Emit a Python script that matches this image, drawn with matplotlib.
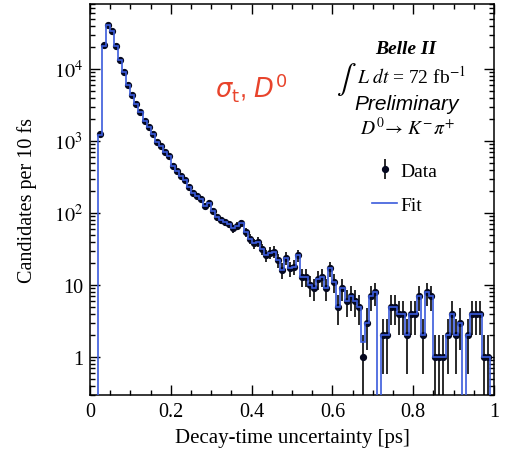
import numpy as np
import matplotlib
import matplotlib.pyplot as plt
from matplotlib.ticker import MultipleLocator, FixedLocator, FixedFormatter, LogLocator, FuncFormatter

plt.rcParams['font.family'] = ['Liberation Serif', 'DejaVu Serif']
plt.rcParams['mathtext.fontset'] = 'stix'

# 10 fs bins from 0 to 1 ps
edges = np.linspace(0.0, 1.0, 101)

# candidates per bin
data = [0, 0, 1250, 21500, 41000, 34000, 21000, 13300, 9100, 6000,
        4350, 3250, 2500, 1900, 1550, 1250, 980, 850, 710, 620,
        455, 385, 325, 290, 230, 190, 175, 157, 126, 138,
        107, 87, 79, 74, 70, 61, 66, 72, 54, 44,
        38, 40, 32, 26, 28, 29, 22, 16, 24, 17,
        18, 26, 13, 13, 10, 9, 12, 13, 9, 17,
        11, 5, 9, 6, 7, 6, 5, 1, 3, 7,
        8, 0, 2, 2, 5, 5, 4, 4, 2, 4,
        4, 7, 2, 8, 7, 1, 1, 1, 2, 4,
        2, 3, 0, 2, 4, 4, 4, 1, 1, 0]

# fit template per bin
fit = [0, 0, 1200, 21000, 40500, 34000, 21000, 13300, 9100, 6000,
       4350, 3250, 2500, 1900, 1550, 1250, 980, 850, 710, 620,
       455, 385, 325, 290, 230, 190, 175, 157, 126, 138,
       107, 87, 79, 74, 70, 61, 66, 72, 54, 44,
       38, 40, 32, 26, 28, 29, 22, 16, 24, 17,
       18, 26, 13, 13, 10, 9, 12, 13, 9, 17,
       11, 5, 9, 6, 7, 6, 5, 1.6, 3, 7,
       8, 0, 2, 2, 5, 5, 4, 4, 2, 4,
       4, 7, 2, 8, 7, 1, 1, 1, 2, 4,
       2, 3, 0, 2, 4, 4, 4, 1, 1, 0]

ytick_vals = [1, 10, 100, 1000, 10000]
ytick_labels = ['1', '10', '$10^{2}$', '$10^{3}$', '$10^{4}$']

data = np.array(data, dtype=float)
fit = np.array(fit, dtype=float)
centers = 0.5 * (edges[1:] + edges[:-1])

fig = plt.figure(figsize=(5.06, 4.60), dpi=100)
ax = fig.add_axes([90 / 506, 1 - 396 / 460, 404 / 506, 391 / 460])
ax.set_yscale('log')

blue = '#3b5bdb'
st = ax.stairs(np.where(fit > 0, fit, 1e-3), edges, color=blue, lw=1.2, zorder=3)

m = data > 0
err = np.sqrt(data[m])
lo = np.minimum(err, data[m] * 0.999)
eb = ax.errorbar(centers[m], data[m], yerr=[lo, err], fmt='o', color='#2a2a2a',
                 mfc='#05081f', mec='#05081f', ms=4.2, elinewidth=1.4, capsize=0, zorder=2)

ax.set_xlim(0, 1)
ax.set_ylim(0.297, 80000)

ax.xaxis.set_major_locator(MultipleLocator(0.2))
ax.xaxis.set_minor_locator(MultipleLocator(0.05))
ax.xaxis.set_major_formatter(FuncFormatter(lambda v, p: '{:g}'.format(round(v, 3))))
ax.yaxis.set_major_locator(FixedLocator(ytick_vals))
ax.yaxis.set_major_formatter(FixedFormatter(ytick_labels))
ax.yaxis.set_minor_locator(LogLocator(base=10, subs=np.arange(2, 10)))
ax.yaxis.set_minor_formatter(matplotlib.ticker.NullFormatter())

ax.tick_params(which='both', direction='in', top=True, right=True, width=1.0, labelsize=14.5)
ax.tick_params(which='major', length=7, pad=5)
ax.tick_params(which='minor', length=3.6)
for s in ax.spines.values():
    s.set_linewidth(1.1)

ax.set_xlabel('Decay-time uncertainty [ps]', fontsize=15, labelpad=5)
ax.set_ylabel('Candidates per 10 fs', fontsize=14.5, labelpad=12)

# labels
fig.text(251 / 506, 1 - 87 / 460, r'$\sigma_{\rm t}$, $D^{0}$', color='#e8442c', fontsize=18.5,
         family='Liberation Sans', math_fontfamily='dejavusans', ha='center', va='center')
fig.text(406 / 506, 1 - 50 / 460, 'Belle II', fontsize=14, weight='bold', style='italic',
         ha='center', va='center')
fig.text(346 / 506, 1 - 79 / 460, r'$\int$', fontsize=21, ha='center', va='center')
fig.text(411 / 506, 1 - 77 / 460, r'$L\ dt$ = 72 fb$^{-1}$', fontsize=14,
         ha='center', va='center')
fig.text(407 / 506, 1 - 104 / 460, 'Preliminary', fontsize=15, family='Liberation Sans',
         style='italic', ha='center', va='center')
fig.text(407 / 506, 1 - 128 / 460, r'$D^{0}\!\rightarrow\,K^{-}\pi^{+}$', fontsize=14,
         ha='center', va='center')

leg = ax.legend([eb, st], ['Data', 'Fit'], loc='upper left',
                bbox_to_anchor=((372 - 90) / 404, (396 - 163) / 391),
                frameon=False, fontsize=14, handlelength=1.3, handletextpad=0.15,
                labelspacing=0.85, borderaxespad=0, borderpad=0)

fig.savefig('out.png', dpi=100)
